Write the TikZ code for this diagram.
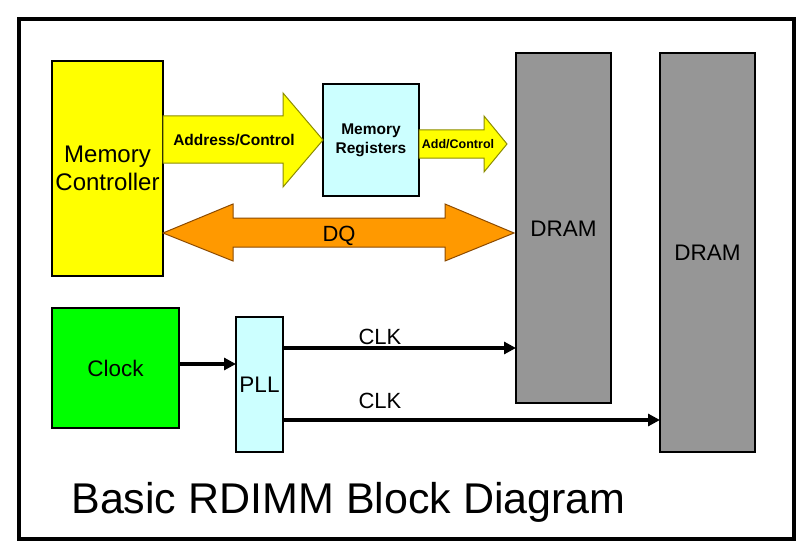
\documentclass[tikz,border=0pt]{standalone}
\usepackage{fontspec}
\setmainfont{Liberation Sans}
\usetikzlibrary{arrows.meta}
\definecolor{myyellow}{HTML}{FFFF00}
\definecolor{mycyan}{HTML}{CCFFFF}
\definecolor{mygray}{HTML}{969696}
\definecolor{mygreen}{HTML}{00FF00}
\definecolor{myorange}{HTML}{FF9900}
\definecolor{myolive}{HTML}{8C8C00}
\definecolor{mybrown}{HTML}{8C4A00}
\tikzset{
  blk/.style={draw=black, line width=1.1pt, inner sep=0pt, outer sep=0pt},
  normaltxt/.style={font=\fontsize{22.5}{27}\selectfont, inner sep=0pt},
  boldtxt/.style={font=\bfseries\fontsize{15.5}{19}\selectfont, inner sep=0pt},
  blockarrowY/.style={fill=myyellow, draw=myolive, line width=1pt, line join=miter},
  blockarrowO/.style={fill=myorange, draw=mybrown, line width=1pt, line join=miter},
  clk/.style={line width=3.6pt, -{Triangle[length=12pt,width=12pt]}, shorten >=0pt},
}
\begin{document}
\begin{tikzpicture}[x=1pt,y=-1pt]
\useasboundingbox (0,0) rectangle (807,551);
\fill[white] (0,0) rectangle (807,551);
\draw[line width=4pt] (19,19) rectangle (794,539);

% boxes
\node[blk, fill=myyellow, minimum width=111pt, minimum height=215pt, align=center,
      font=\fontsize{24}{28.5}\selectfont] (mc) at (107.5,168.5) {Memory\\Controller};
\node[blk, fill=mycyan, minimum width=96pt, minimum height=112pt, align=center,
      font=\bfseries\fontsize{15.5}{19}\selectfont] (regs) at (371,140) {Memory\\Registers};
\node[blk, fill=mygray, minimum width=95pt, minimum height=350pt] (dram1) at (563.5,228) {};
\node[blk, fill=mygray, minimum width=95pt, minimum height=399pt] (dram2) at (707.5,252.5) {};
\node[blk, fill=mygreen, minimum width=127pt, minimum height=120pt] (clock) at (115.5,368) {};
\node[blk, fill=mycyan, minimum width=47pt, minimum height=135pt] (pll) at (259.5,384.5) {};

\node[normaltxt, anchor=base] (dramlbl1) at (563.5,236) {DRAM};
\node[normaltxt, anchor=base] (dramlbl2) at (707.5,260.5) {DRAM};
\node[normaltxt, anchor=base] (clocklbl) at (115.5,376) {Clock};
\node[normaltxt, anchor=base] (plllbl) at (259.5,392.5) {PLL};

% block arrows
\draw[blockarrowY] (163,116) -- (283,116) -- (283,93) -- (323,140) -- (283,187) -- (283,163) -- (163,163) -- cycle;
\node[boldtxt, anchor=base] (addrlbl) at (234,145.5) {Address/Control};

\draw[blockarrowY] (419,130) -- (484,130) -- (484,116) -- (507,144) -- (484,172) -- (484,158) -- (419,158) -- cycle;
\node[boldtxt, anchor=base, font=\bfseries\fontsize{12.5}{15}\selectfont] (addlbl) at (458,148.5) {Add/Control};

\draw[blockarrowO] (163,233) -- (233,204) -- (233,218) -- (445,218) -- (445,204) -- (514,233)
   -- (445,261) -- (445,247) -- (233,247) -- (233,261) -- cycle;
\node[normaltxt, anchor=base, font=\fontsize{22}{26}\selectfont] (dqlbl) at (339,241) {DQ};

% clock connectors
\coordinate (y1) at (0,348);
\coordinate (y2) at (0,420);
\draw[clk] (clock.east |- 0,364) -- (pll.west |- 0,364);
\draw[clk] (pll.east |- y1) -- (dram1.west |- y1);
\draw[clk] (pll.east |- y2) -- (dram2.west |- y2);
\node[normaltxt, anchor=base, font=\fontsize{22}{26}\selectfont] (clk1) at (380,344) {CLK};
\node[normaltxt, anchor=base, font=\fontsize{22}{26}\selectfont] (clk2) at (380,408) {CLK};

% title
\node[anchor=base, inner sep=0pt, font=\fontsize{43}{50}\selectfont] (title) at (348.5,513) {Basic RDIMM Block Diagram};
\end{tikzpicture}
\end{document}
